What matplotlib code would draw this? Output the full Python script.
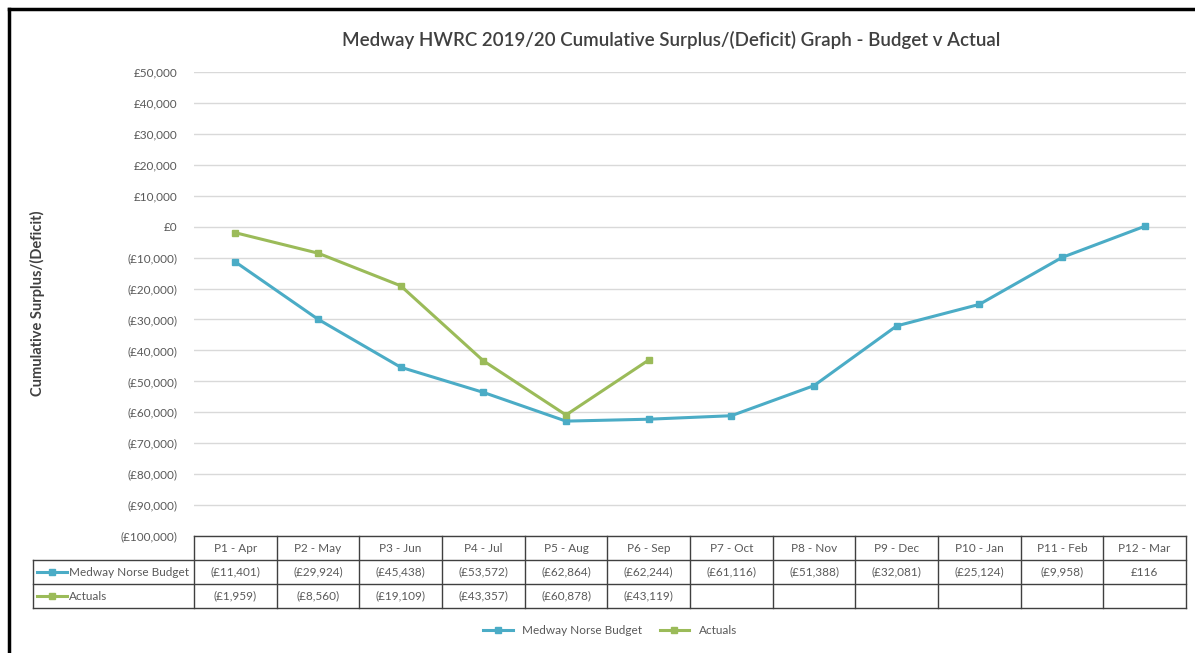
import matplotlib.pyplot as plt
from matplotlib.lines import Line2D
from matplotlib.ticker import FuncFormatter

plt.rcParams['font.family'] = ['Lato', 'DejaVu Sans']

W, H = 1195, 653

periods = ["P1 - Apr", "P2 - May", "P3 - Jun", "P4 - Jul", "P5 - Aug", "P6 - Sep",
           "P7 - Oct", "P8 - Nov", "P9 - Dec", "P10 - Jan", "P11 - Feb", "P12 - Mar"]
budget = [-11401, -29924, -45438, -53572, -62864, -62244,
          -61116, -51388, -32081, -25124, -9958, 116]
actuals = [-1959, -8560, -19109, -43357, -60878, -43119]

blue = '#4BACC6'
green = '#9BBB59'
grey_txt = '#595959'
border = '#404040'


def money(v, pos=None):
    s = f"£{abs(v):,.0f}"
    return f"({s})" if v < 0 else s


fig = plt.figure(figsize=(W / 100, H / 100), dpi=100)

# main plot area
ax = fig.add_axes([194 / W, 1 - 536 / H, (1186 - 194) / W, (536 - 72) / H])
ax.plot(range(len(budget)), budget, color=blue, lw=2.2, marker='s', ms=5)
ax.plot(range(len(actuals)), actuals, color=green, lw=2.2, marker='s', ms=5)
ax.set_xlim(-0.5, 11.5)
ax.set_ylim(-100000, 50000)
ax.set_yticks(range(-100000, 50001, 10000))
ax.yaxis.set_major_formatter(FuncFormatter(money))
ax.grid(axis='y', color='#D9D9D9', lw=1)
ax.set_axisbelow(True)
ax.set_xticks([])
for sp in ax.spines.values():
    sp.set_visible(False)
ax.tick_params(axis='y', length=0, pad=12, labelsize=8.5, labelcolor=grey_txt)

fig.text(671 / W, 1 - 40 / H, "Medway HWRC 2019/20 Cumulative Surplus/(Deficit) Graph - Budget v Actual",
         ha='center', va='center', fontsize=13.5, color=border, weight='semibold')
fig.text(37 / W, 1 - 303 / H, "Cumulative Surplus/(Deficit)", rotation=90,
         ha='center', va='center', fontsize=10.5, color=border, weight='bold')

# data table below the plot
lab_left = -0.5 - (194 - 33) / ((1186 - 194) / 12)
tab = fig.add_axes([33 / W, 1 - 608 / H, (1186 - 33) / W, 72 / H])
tab.set_xlim(lab_left, 11.5)
tab.set_ylim(3, 0)
tab.axis('off')
lk = dict(color=border, lw=1, clip_on=False)
tab.plot([-0.5, 11.5], [0, 0], **lk)
for r in (1, 2, 3):
    tab.plot([lab_left, 11.5], [r, r], **lk)
tab.plot([lab_left, lab_left], [1, 3], **lk)
for i in range(13):
    tab.plot([i - 0.5, i - 0.5], [0, 3], **lk)

for i, p in enumerate(periods):
    tab.text(i, 0.5, p, ha='center', va='center', fontsize=8.5, color=grey_txt)
for i, v in enumerate(budget):
    tab.text(i, 1.5, money(v), ha='center', va='center', fontsize=8.5, color=grey_txt)
for i, v in enumerate(actuals):
    tab.text(i, 2.5, money(v), ha='center', va='center', fontsize=8.5, color=grey_txt)

for r, (name, col) in enumerate([("Medway Norse Budget", blue), ("Actuals", green)]):
    y = 1.5 + r
    tab.plot([lab_left + 0.05, lab_left + 0.41], [y, y], color=col, lw=2.2, clip_on=False)
    tab.plot([lab_left + 0.23], [y], color=col, marker='s', ms=5, clip_on=False)
    tab.text(lab_left + 0.43, y, name, ha='left', va='center', fontsize=8.5, color=grey_txt)

handles = [Line2D([], [], color=blue, lw=2.2, marker='s', ms=5),
           Line2D([], [], color=green, lw=2.2, marker='s', ms=5)]
fig.legend(handles, ["Medway Norse Budget", "Actuals"], loc='center',
           bbox_to_anchor=(610 / W, 1 - 631 / H), ncol=2, frameon=False,
           fontsize=8.5, labelcolor=grey_txt, handlelength=2.5, columnspacing=1.5)

# frame on the left and top edges of the picture
fig.add_artist(Line2D([9 / W, 9 / W], [0, 1 - 9 / H], color='black', lw=2.5))
fig.add_artist(Line2D([9 / W, 1], [1 - 9 / H, 1 - 9 / H], color='black', lw=2.5))

fig.savefig('out.png', dpi=100)
